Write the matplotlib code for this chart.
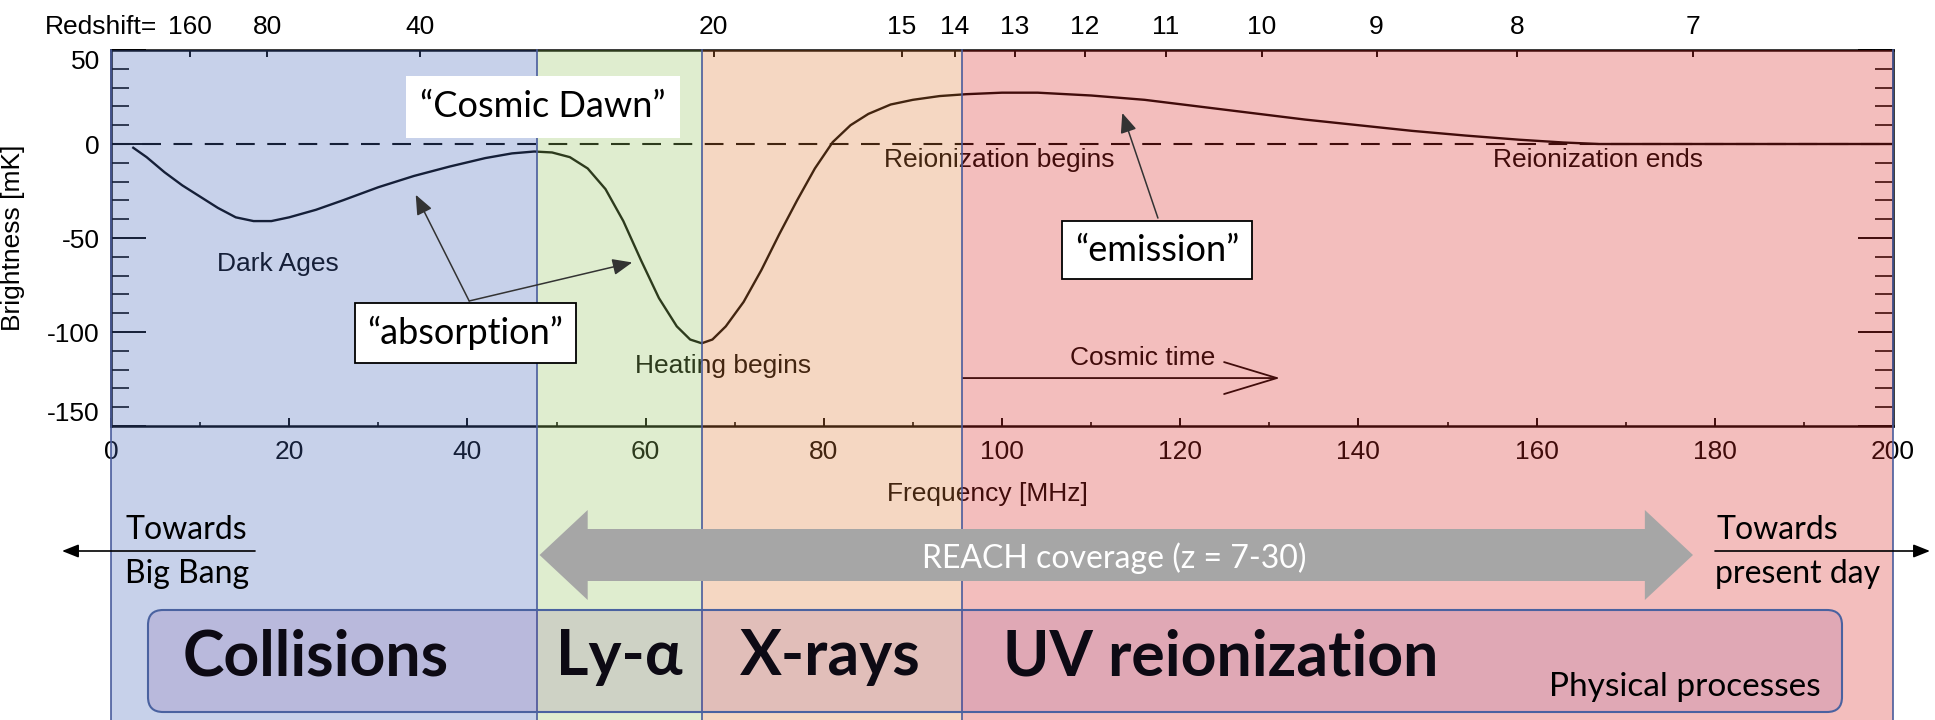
import matplotlib
matplotlib.use("Agg")
import matplotlib.pyplot as plt
import matplotlib.transforms as mtransforms
from matplotlib.patches import Rectangle, FancyBboxPatch, Polygon
from matplotlib.lines import Line2D
from matplotlib.ticker import MultipleLocator

# global 21-cm signal
freq_mhz = [2.5, 4, 6, 8, 10, 12, 14, 16, 18, 20, 23, 26, 30, 34, 38, 42, 45,
            47.5, 49.5, 51.5, 53.5, 55.5, 57.5, 59.5, 61.5, 63.5, 65, 66.3,
            67.5, 69, 71, 73, 75, 77, 79, 81, 83, 85, 87.5, 90, 93, 96, 100,
            104, 110, 116, 122, 128, 134, 140, 146, 152, 158, 163, 167, 175,
            190, 200]
brightness_mk = [-2, -7, -15, -22, -28, -34, -39, -41, -41, -39, -35, -30, -23,
                 -17, -12, -7.5, -5, -4, -4.5, -7, -13, -24, -41, -62, -82, -97,
                 -104, -106, -104, -97, -84, -67, -48, -30, -13, 1, 10, 16, 21,
                 23.5, 25.5, 26.5, 27.3, 27.3, 25.8, 23.5, 20, 16.5, 13, 10, 7,
                 4.5, 2.3, 0.8, 0, 0, 0, 0]

freq_ticks = [0, 20, 40, 60, 80, 100, 120, 140, 160, 180, 200]
brightness_ticks = [-150, -100, -50, 0, 50]
redshift_ticks = [160, 80, 40, 20, 15, 14, 13, 12, 11, 10, 9, 8, 7]
NU_21CM = 1420.4  # MHz

# epochs (band edges in MHz) and the physical process for each
band_edges = [0, 47.8, 66.3, 95.5, 200]
band_colors = ["#4869bc", "#98c662", "#e17d37", "#da2a26"]
process_labels = ["Collisions", "Ly-α", "X-rays", "UV reionization"]

plot_font = "Liberation Sans"
slide_font = ["Lato", "Open Sans", "DejaVu Sans"]
ink = "#000000"

fig = plt.figure(figsize=(19.35, 7.2), dpi=100)
ax = fig.add_axes([111 / 1935, 1 - 426 / 720, 1782 / 1935, 376 / 720])

ax.plot(freq_mhz, brightness_mk, color=ink, lw=1.7)
ax.axhline(0, color=ink, lw=1.5, dashes=(9, 6))

ax.set_xlim(0, 200)
ax.set_ylim(-150, 50)
ax.set_xticks(freq_ticks)
ax.set_xticklabels([str(f) for f in freq_ticks], family=plot_font)
ax.xaxis.set_minor_locator(MultipleLocator(10))
ax.set_yticks(brightness_ticks)
ax.set_yticklabels([str(b) for b in brightness_ticks], family=plot_font)
ax.yaxis.set_minor_locator(MultipleLocator(10))
ax.tick_params(axis="x", which="major", direction="in", length=6, width=1.4,
               top=False, labelsize=19, pad=10, colors=ink)
ax.tick_params(axis="x", which="minor", direction="in", length=3, width=1.2,
               top=False, colors=ink)
ax.tick_params(axis="y", which="major", direction="in", length=25, width=1.4,
               right=True, labelsize=19, pad=8, colors=ink)
ax.tick_params(axis="y", which="minor", direction="in", length=13, width=1.2,
               right=True, colors=ink)
for s in ax.spines.values():
    s.set_linewidth(1.8)
    s.set_color(ink)
ylabs = ax.get_yticklabels()
ylabs[0].set_va("bottom")
ylabs[-1].set_va("top")

ax.set_ylabel("Brightness [mK]", fontsize=19, family=plot_font, color=ink)
ax.yaxis.set_label_coords(-0.048, 0.5)
ax.set_xlabel("Frequency [MHz]", fontsize=19, family=plot_font, color=ink)
ax.xaxis.label.set_va("center")
ax.xaxis.set_label_coords(0.4916, -0.181)

# redshift scale along the top
ax_z = ax.twiny()
ax_z.set_xlim(ax.get_xlim())
ax_z.set_xticks([NU_21CM / (1 + z) for z in redshift_ticks])
ax_z.set_xticklabels([str(z) for z in redshift_ticks], family=plot_font)
ax_z.tick_params(axis="x", direction="in", length=5, width=1.4,
                 labelsize=19, pad=8, colors=ink)
for s in ax_z.spines.values():
    s.set_visible(False)
fig.text(45 / 1935, 1 - 27 / 720, "Redshift=", fontsize=19, family=plot_font,
         ha="left", va="center", color=ink)

# text of the original plot
txt = dict(fontsize=19, family=plot_font, ha="center", va="center", color=ink)
ax.text(18.7, -64, "Dark Ages", **txt)
ax.text(68.7, -118, "Heating begins", **txt)
ax.text(99.7, -8.5, "Reionization begins", **txt)
ax.text(166.9, -8.5, "Reionization ends", **txt)
ax.text(115.8, -114, "Cosmic time", **txt)
ax.annotate("", xy=(131.2, -124.5), xytext=(95.6, -124.5),
            arrowprops=dict(arrowstyle="->,head_length=3.8,head_width=1.15",
                            mutation_scale=10, color=ink, lw=1.3,
                            shrinkA=0, shrinkB=0))

# coloured epochs laid over the plot
band_tr = mtransforms.blended_transform_factory(ax.transData, fig.transFigure)
top = ax.get_position().y1
for x0, x1, c in zip(band_edges[:-1], band_edges[1:], band_colors):
    fig.add_artist(Rectangle((x0, 0), x1 - x0, top, transform=band_tr,
                             facecolor=c, alpha=0.3, edgecolor="none",
                             zorder=1))
for x in band_edges:
    fig.add_artist(Line2D([x, x], [0, top], transform=band_tr,
                          color="#4a5c9c", lw=1.2, zorder=1.1))

# slide annotations on top
ov = fig.add_axes([0, 0, 1, 1], zorder=2)
ov.set_axis_off()
ov.set_xlim(0, 1)
ov.set_ylim(0, 1)

call = dict(fontsize=26, family=slide_font, ha="center", va="center",
            color="black", transform=ax.transData)
ov.text(48.5, 19.7, "“Cosmic Dawn”",
        bbox=dict(boxstyle="square,pad=0.4", fc="white", ec="none"), **call)
ov.text(39.8, -100.5, "“absorption”",
        bbox=dict(boxstyle="square,pad=0.35", fc="white", ec="black", lw=1.3),
        **call)
ov.text(117.4, -56.4, "“emission”",
        bbox=dict(boxstyle="square,pad=0.35", fc="white", ec="black", lw=1.3),
        **call)
arrow_kw = dict(arrowstyle="-|>,head_length=0.6,head_width=0.25",
                mutation_scale=20, color="#333333", lw=1.1,
                shrinkA=0, shrinkB=0)
for tip in [(34.2, -27), (58.5, -63)]:
    ov.annotate("", xy=tip, xytext=(40.2, -83.5), xycoords=ax.transData,
                textcoords=ax.transData, arrowprops=arrow_kw)
ov.annotate("", xy=(113.5, 16.5), xytext=(117.5, -39.4), xycoords=ax.transData,
            textcoords=ax.transData, arrowprops=arrow_kw)

# REACH coverage double arrow
y_mid, head_h, shaft_h, head_len = 1 - 555 / 720, 45 / 720, 26 / 720, 5.4
x_l, x_r = band_edges[1] + 0.3, NU_21CM / (1 + 7)
pts = [(x_l, y_mid), (x_l + head_len, y_mid + head_h),
       (x_l + head_len, y_mid + shaft_h), (x_r - head_len, y_mid + shaft_h),
       (x_r - head_len, y_mid + head_h), (x_r, y_mid),
       (x_r - head_len, y_mid - head_h), (x_r - head_len, y_mid - shaft_h),
       (x_l + head_len, y_mid - shaft_h), (x_l + head_len, y_mid - head_h)]
ov.add_patch(Polygon(pts, closed=True, transform=band_tr,
                     facecolor="#a6a6a6", edgecolor="none"))
ov.text(112.6, 1 - 558 / 720, "REACH coverage (z = 7-30)", transform=band_tr,
        fontsize=23, family=slide_font, color="white", ha="center", va="center")

# towards Big Bang / present day
side = dict(fontsize=23, family=slide_font, color="black", va="center")
ov.text(125 / 1935, 1 - 530 / 720, "Towards", ha="left", **side)
ov.text(125 / 1935, 1 - 574 / 720, "Big Bang", ha="left", **side)
ov.text(1716 / 1935, 1 - 530 / 720, "Towards", ha="left", **side)
ov.text(1715 / 1935, 1 - 574 / 720, "present day", ha="left", **side)
side_arrow = dict(arrowstyle="-|>,head_length=0.5,head_width=0.2",
                  mutation_scale=20, color="black", lw=1.2,
                  shrinkA=0, shrinkB=0)
ov.annotate("", xy=(62 / 1935, 1 - 551 / 720), xytext=(255 / 1935, 1 - 551 / 720),
            arrowprops=side_arrow)
ov.annotate("", xy=(1930 / 1935, 1 - 551 / 720), xytext=(1715 / 1935, 1 - 551 / 720),
            arrowprops=side_arrow)

# physical processes box
ov.add_patch(FancyBboxPatch((1.48, 0.08), 16.94, 1.02,
                            boxstyle="round,pad=0,rounding_size=0.15",
                            transform=fig.dpi_scale_trans,
                            facecolor=(88 / 255, 17 / 255, 127 / 255, 0.12),
                            edgecolor="#4a62a0", lw=1.5))
proc_x = [8.0, 57.0, 80.7, 100.1]
proc_ha = ["left", "center", "center", "left"]
for lab, x, ha in zip(process_labels, proc_x, proc_ha):
    ov.text(x, 1 - 657 / 720, lab, transform=band_tr, fontsize=45,
            fontweight="bold", family=slide_font, color="#0d0a14",
            ha=ha, va="center")
ov.text(1685 / 1935, 1 - 687 / 720, "Physical processes", fontsize=24,
        family=slide_font, color="black", ha="center", va="center")

fig.savefig("out.png", dpi=100, facecolor="white")
